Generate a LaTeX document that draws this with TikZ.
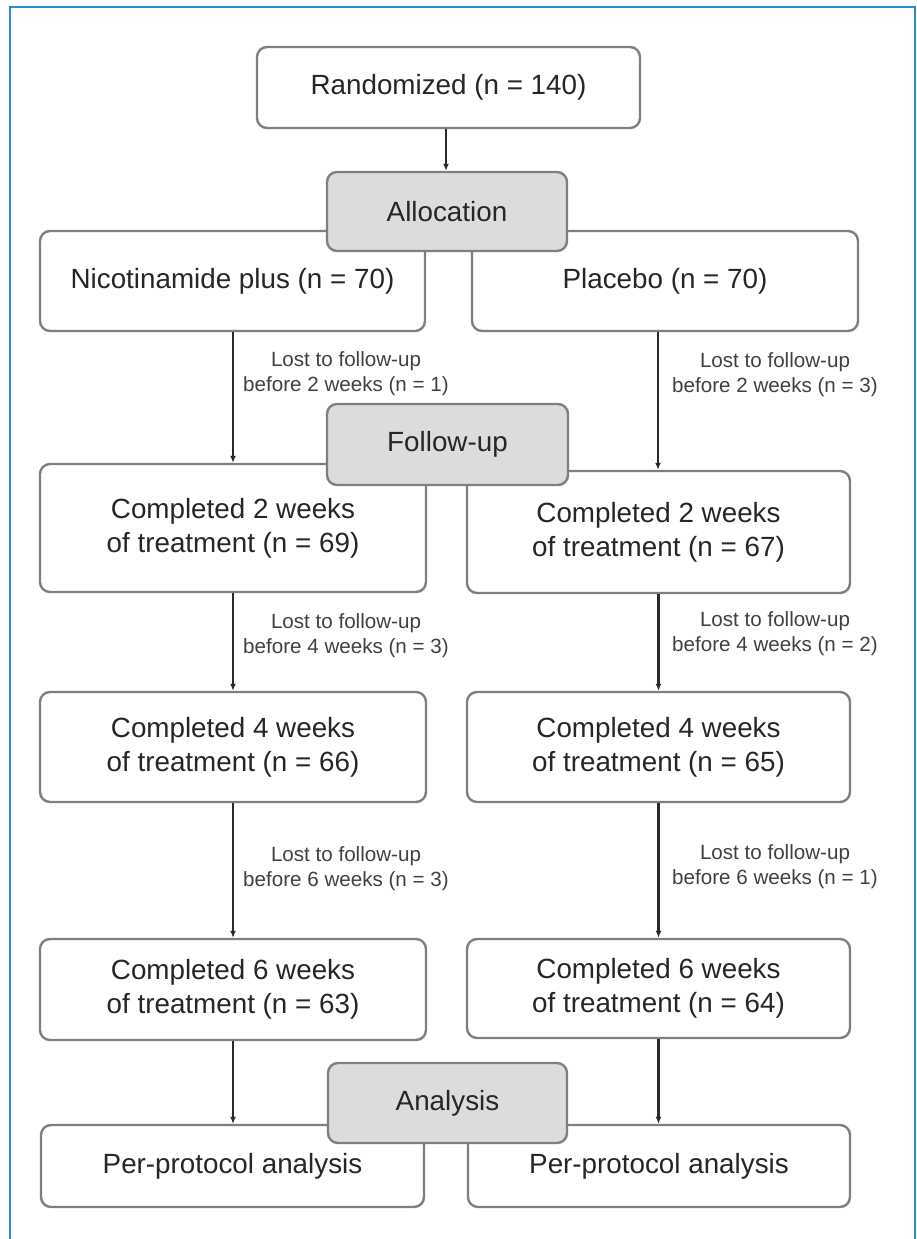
\documentclass[tikz,border=0pt]{standalone}
\usepackage{fontspec}
\setmainfont{Liberation Sans}
\usetikzlibrary{arrows.meta}

\definecolor{boxgray}{HTML}{7F7F7F}
\definecolor{stagefill}{HTML}{DCDCDC}
\definecolor{linedark}{HTML}{2A2A2A}
\definecolor{framblue}{HTML}{2E8BC9}

\tikzset{
    box/.style={draw=boxgray, line width=2.4pt, rounded corners=10pt, fill=white,
        align=center, inner sep=0pt, text=black!85,
        font=\fontsize{27.8}{34}\selectfont},
    stage/.style={box, fill=stagefill},
    lbl/.style={align=center, inner sep=0pt, text=black!75,
        font=\fontsize{20.6}{25}\selectfont},
    arr/.style={-{Latex[length=7pt,width=6pt]}, line width=2.2pt, draw=linedark}
}

\begin{document}
\begin{tikzpicture}[x=1pt, y=-1pt]
    \useasboundingbox (0, 0) rectangle (917, 1239);
    \draw[framblue, line width=1.5pt] (10, 7) rectangle (915, 1250);

    % trial arms
    \node[box, minimum width=383, minimum height=81] (rand) at (448.5, 87.5) {Randomized (n = 140)};
    \node[box, minimum width=385, minimum height=100] (nico) at (232.5, 281) {Nicotinamide plus (n = 70)};
    \node[box, minimum width=386, minimum height=100] (plac) at (665, 281) {Placebo (n = 70)};

    \node[box, minimum width=386, minimum height=128] (nico2) at (233, 528) {Completed 2 weeks\\of treatment (n = 69)};
    \node[box, minimum width=383, minimum height=122] (plac2) at (658.5, 532) {Completed 2 weeks\\of treatment (n = 67)};
    \node[box, minimum width=386, minimum height=110] (nico4) at (233, 747) {Completed 4 weeks\\of treatment (n = 66)};
    \node[box, minimum width=383, minimum height=110] (plac4) at (658.5, 747) {Completed 4 weeks\\of treatment (n = 65)};
    \node[box, minimum width=386, minimum height=101] (nico6) at (233, 989.5) {Completed 6 weeks\\of treatment (n = 63)};
    \node[box, minimum width=383, minimum height=99] (plac6) at (658.5, 988.5) {Completed 6 weeks\\of treatment (n = 64)};
    \node[box, minimum width=383, minimum height=82] (nicopp) at (232.5, 1166) {Per-protocol analysis};
    \node[box, minimum width=382, minimum height=82] (placpp) at (659, 1166) {Per-protocol analysis};

    % stages
    \node[stage, minimum width=240, minimum height=79] (alloc) at (447, 211.5) {Allocation};
    \node[stage, minimum width=241, minimum height=81] (follow) at (447.5, 444.5) {Follow-up};
    \node[stage, minimum width=239, minimum height=80] (analysis) at (447.5, 1103) {Analysis};

    % connectors
    \draw[arr] (rand.south -| 446, 0) -- (alloc.north -| 446, 0);
    \draw[arr] (nico.south -| 233, 0) -- (nico2.north -| 233, 0);
    \draw[arr] (nico2.south) -- (nico4.north);
    \draw[arr] (nico4.south) -- (nico6.north);
    \draw[arr] (nico6.south) -- (nico6.south |- nicopp.north);
    \draw[arr] (plac.south -| 658, 0) -- (plac2.north -| 658, 0);
    \draw[arr] (plac2.south) -- (plac4.north);
    \draw[arr] (plac4.south) -- (plac6.north);
    \draw[arr] (plac6.south) -- (plac6.south |- placpp.north);

    % losses
    \node[lbl] (loss1) at (346, 374) {Lost to follow-up\\before 2 weeks (n = 1)};
    \node[lbl] (loss2) at (775, 375) {Lost to follow-up\\before 2 weeks (n = 3)};
    \node[lbl] (loss3) at (346, 636) {Lost to follow-up\\before 4 weeks (n = 3)};
    \node[lbl] (loss4) at (775, 634) {Lost to follow-up\\before 4 weeks (n = 2)};
    \node[lbl] (loss5) at (346, 869) {Lost to follow-up\\before 6 weeks (n = 3)};
    \node[lbl] (loss6) at (775, 867) {Lost to follow-up\\before 6 weeks (n = 1)};
\end{tikzpicture}
\end{document}
